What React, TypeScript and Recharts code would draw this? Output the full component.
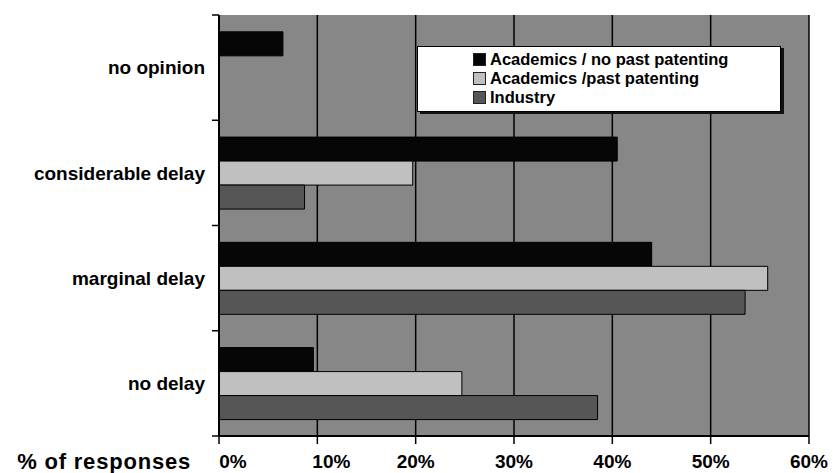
import { BarChart, Bar, XAxis, YAxis, CartesianGrid, Legend } from "recharts"

// survey answers, % of responses
const categories = ["no opinion", "considerable delay", "marginal delay", "no delay"]
const noPastPatenting = [6.5, 40.5, 44, 9.6]
const pastPatenting = [null, 19.7, 55.8, 24.7]
const industry = [null, 8.7, 53.5, 38.5]
const xTicks = [0, 10, 20, 30, 40, 50, 60]

const series = [
  { key: "noPast", name: "Academics / no past patenting", fill: "#060606" },
  { key: "past", name: "Academics /past patenting", fill: "#c0c0c0" },
  { key: "industry", name: "Industry", fill: "#565656" },
]

const data = categories.map((c, i) => ({
  name: c,
  noPast: noPastPatenting[i],
  past: pastPatenting[i],
  industry: industry[i],
}))

const font = "'Liberation Sans', Arial, sans-serif"

function LegendBox() {
  return (
    <div
      style={{
        background: "#fff",
        border: "1px solid #000",
        boxShadow: "3px 2px 0 #111",
        padding: "3px 0 4px 55px",
        fontFamily: font,
        fontWeight: 700,
        fontSize: 16.5,
        lineHeight: "19px",
        color: "#000",
        boxSizing: "border-box",
      }}
    >
      {series.map((s) => (
        <div key={s.key} style={{ display: "flex", alignItems: "center" }}>
          <span
            style={{
              display: "inline-block",
              width: 11,
              height: 11,
              background: s.fill,
              border: "1px solid #222",
              marginRight: 4,
            }}
          />
          {s.name}
        </div>
      ))}
    </div>
  )
}

// the scan shows the first two percent labels nudged right of their ticks
function PercentTick({ x, y, payload }: any) {
  const shift = payload.value < 20 ? 14 : 0
  return (
    <text
      x={x + shift}
      y={y}
      dy="0.71em"
      textAnchor="middle"
      fontSize={19}
      fontWeight={700}
      fill="#000"
      fontFamily={font}
    >
      {`${payload.value}%`}
    </text>
  )
}

// category label, with the tick marks drawn on the band edges (Excel style)
function CategoryTick({ x, y, payload, index, visibleTicksCount }: any) {
  const half = payload.offset || 52.6
  const ax = x + 14
  return (
    <g>
      <text
        x={x}
        y={y}
        dy="0.355em"
        textAnchor="end"
        fontSize={19}
        fontWeight={700}
        fill="#000"
        fontFamily={font}
      >
        {payload.value}
      </text>
      <line x1={ax - 7} x2={ax} y1={y - half} y2={y - half} stroke="#000" strokeWidth={1.5} />
      {index === visibleTicksCount - 1 && (
        <line x1={ax - 7} x2={ax} y1={y + half} y2={y + half} stroke="#000" strokeWidth={1.5} />
      )}
    </g>
  )
}

export default function App() {
  return (
    <div style={{ position: "absolute", left: 0, top: 0, width: 833, height: 473, background: "#fff" }}>
      <BarChart
        width={833}
        height={473}
        data={data}
        layout="vertical"
        margin={{ top: 15, right: 24, left: 0, bottom: 0 }}
        barCategoryGap="16%"
        barGap={0}
      >
        <CartesianGrid fill="#878787" horizontal={false} stroke="#000" strokeWidth={1.5} />
        <XAxis
          type="number"
          domain={[0, 60]}
          ticks={xTicks}
          height={37}
          tickSize={8}
          tickMargin={11}
          axisLine={{ stroke: "#000", strokeWidth: 2 }}
          tickLine={{ stroke: "#000", strokeWidth: 1.5 }}
          tick={<PercentTick />}
          label={{
            value: "% of responses",
            position: "left",
            offset: 28,
            dy: 7,
            style: { fontSize: 22, fontWeight: 700, fill: "#000", fontFamily: font, letterSpacing: 0.8 },
          }}
        />
        <YAxis
          type="category"
          dataKey="name"
          width={219}
          tickSize={0}
          tickMargin={14}
          tickLine={false}
          axisLine={{ stroke: "#000", strokeWidth: 2 }}
          tick={<CategoryTick />}
        />
        <Legend
          layout="vertical"
          align="center"
          verticalAlign="middle"
          content={() => <LegendBox />}
          wrapperStyle={{ left: 417, top: 46, width: 364 }}
        />
        {series.map((s) => (
          <Bar
            key={s.key}
            dataKey={s.key}
            name={s.name}
            fill={s.fill}
            stroke="#000"
            strokeWidth={1}
            isAnimationActive={false}
          />
        ))}
      </BarChart>
    </div>
  )
}
